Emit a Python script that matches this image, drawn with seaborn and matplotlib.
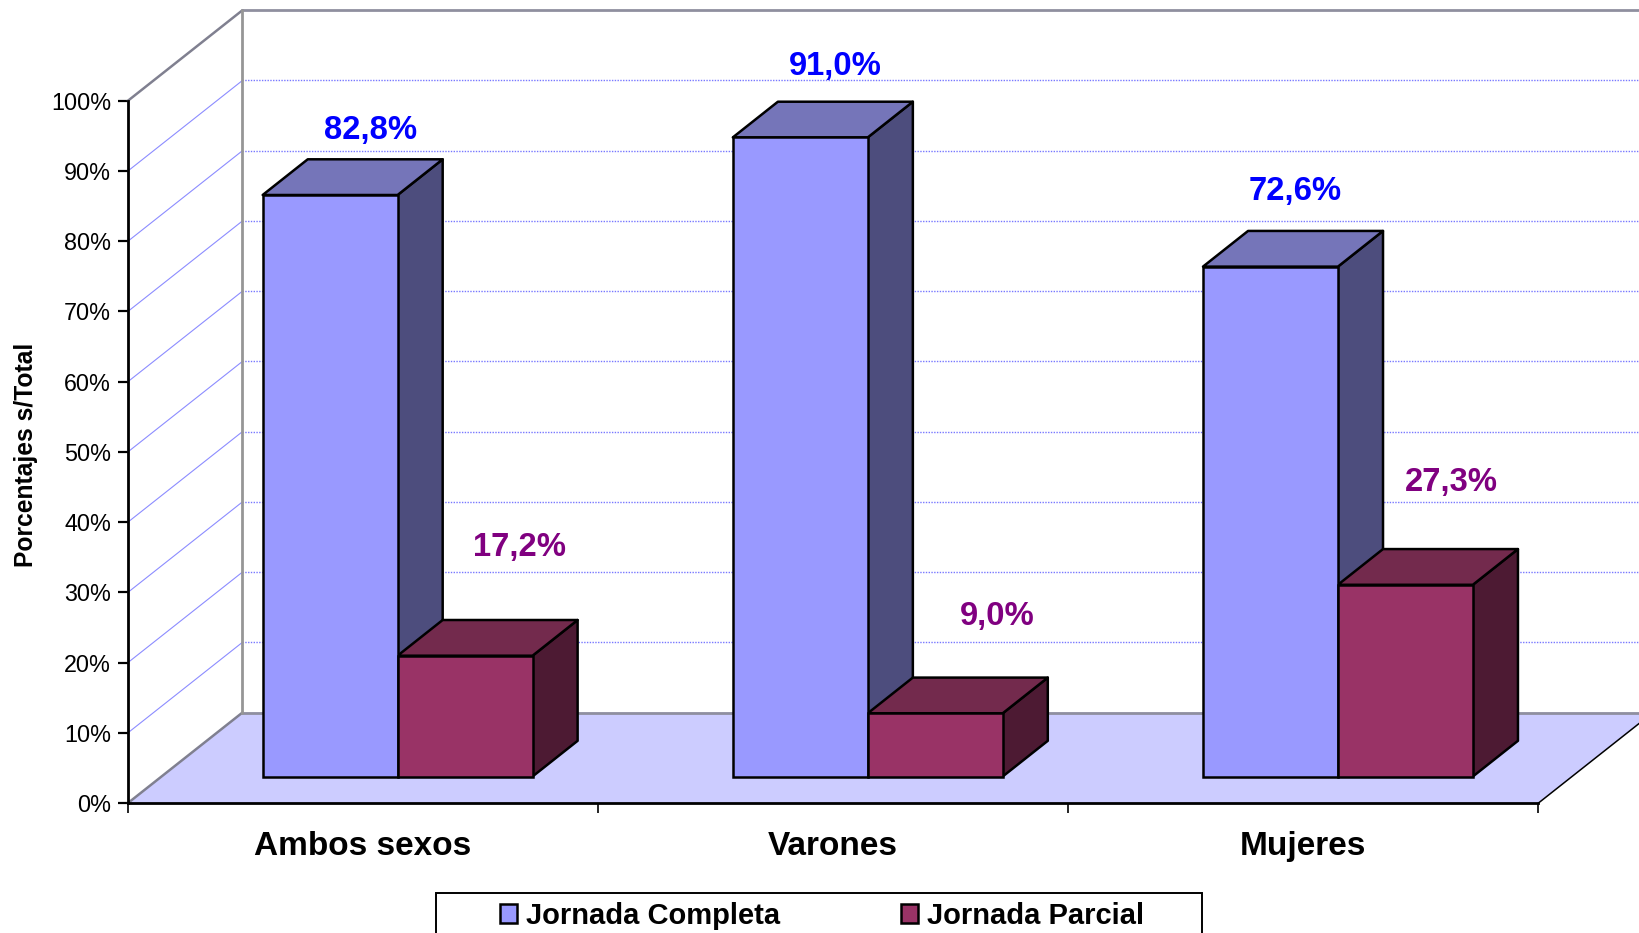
import matplotlib
matplotlib.use("Agg")
import matplotlib.pyplot as plt
import pandas as pd
import seaborn as sns
from matplotlib.patches import Polygon, Rectangle
from matplotlib.transforms import Affine2D

categories = ["Ambos sexos", "Varones", "Mujeres"]
completa = [82.8, 91.0, 72.6]
parcial = [17.2, 9.0, 27.3]
series_names = ["Jornada Completa", "Jornada Parcial"]
y_ticks = list(range(0, 101, 10))

# label placement: pixels right of the bar centre, pixels above the bar top
label_offsets = {
    "Jornada Completa": [(40, 55.5), (35.5, 62), (24.5, 66.3)],
    "Jornada Parcial": [(54.5, 100), (62, 88), (46, 94.1)],
}

W, H = 1640, 933
sns.set_theme(style="white")
plt.rcParams["font.family"] = ["Liberation Sans", "DejaVu Sans"]

fig = plt.figure(figsize=(W / 100, H / 100), dpi=100, facecolor="white")
L, R, Y0, Y100 = 128.0, 1538.5, 803.0, 100.7
ax = fig.add_axes([L / W, 1 - Y0 / H, (R - L) / W, (Y0 - Y100) / H])
ax.patch.set_alpha(0)

df = pd.DataFrame({
    "cat": categories * 2,
    "val": completa + parcial,
    "serie": [series_names[0]] * 3 + [series_names[1]] * 3,
})
colors = {series_names[0]: "#9999FF", series_names[1]: "#993366"}
tops = {series_names[0]: "#7575B9", series_names[1]: "#732A4D"}
sides = {series_names[0]: "#4D4D7D", series_names[1]: "#4D1A33"}
text_cols = {series_names[0]: "#0000FF", series_names[1]: "#800080"}

sns.barplot(data=df, x="cat", y="val", hue="serie", order=categories,
            hue_order=series_names, palette=colors, saturation=1,
            width=0.574, gap=0, edgecolor="black", linewidth=1.8, ax=ax)

ax.set_xlim(-0.5, 2.5)
ax.set_ylim(0, 100)

px = (R - L) / 3          # pixels per category
py = (Y0 - Y100) / 100    # pixels per percent
wall_dx, wall_dy = 114.5 / px, 90.5 / py
bar_ox, bar_oy = 34.5 / px, 26.5 / py
bar_dx, bar_dy = 45.1 / px, 35.7 / py

# floor
x0, x1 = ax.get_xlim()
ax.add_patch(Polygon([(x0, 0), (x1, 0), (x1 + wall_dx, wall_dy), (x0 + wall_dx, wall_dy)],
                     closed=True, fc="#CCCCFF", ec="none", zorder=1, clip_on=False))

# wall and side gridlines
grid_c = "#7878FF"
for t in y_ticks:
    yb = t + wall_dy
    edge = t in (0, 100)
    ax.plot([x0, x0 + wall_dx], [t, yb], color="#808090" if edge else "#8C8CFF",
            lw=1.8 if edge else 0.8, zorder=1.5, clip_on=False)
    ax.plot([x0 + wall_dx, x1 + wall_dx], [yb, yb], color="#8F8F9F" if edge else grid_c,
            lw=2.0 if edge else 1.0, ls="-" if edge else (0, (1, 1)), zorder=1.5, clip_on=False)
ax.plot([x0 + wall_dx, x0 + wall_dx], [wall_dy, 100 + wall_dy], color="#969696", lw=2.0,
        zorder=1.6, clip_on=False)
ax.plot([x1, x1 + wall_dx], [0, wall_dy], color="black", lw=1.1, zorder=1.6, clip_on=False)

# 3D faces derived from each seaborn bar
shift = Affine2D().translate(bar_ox, bar_oy) + ax.transData
for s_idx, (name, cont) in enumerate(zip(series_names, ax.containers)):
    for cat_idx, bar in enumerate(cont.patches):
        bar.set_transform(shift)
        bar.set_clip_on(False)
        bar.set_zorder(5)
        xa, w, h = bar.get_x(), bar.get_width(), bar.get_height()
        xb = xa + w
        z = 3 + s_idx * 0.5
        ax.add_patch(Polygon([(xb, 0), (xb + bar_dx, bar_dy), (xb + bar_dx, h + bar_dy), (xb, h)],
                             closed=True, fc=sides[name], ec="black", lw=1.8, zorder=z,
                             transform=shift, clip_on=False, joinstyle="round"))
        ax.add_patch(Polygon([(xa, h), (xb, h), (xb + bar_dx, h + bar_dy), (xa + bar_dx, h + bar_dy)],
                             closed=True, fc=tops[name], ec="black", lw=1.8, zorder=z + 0.1,
                             transform=shift, clip_on=False, joinstyle="round"))
        lx, ly = label_offsets[name][cat_idx]
        txt = f"{h:.1f}%".replace(".", ",")
        ax.annotate(txt, xy=(xa + w / 2 + bar_ox, h + bar_oy), xytext=(lx, ly),
                    textcoords="offset pixels", ha="center", va="baseline",
                    color=text_cols[name], fontsize=23.6, fontweight="bold",
                    zorder=7, annotation_clip=False)

# axes
for s in ("top", "right"):
    ax.spines[s].set_visible(False)
for s in ("left", "bottom"):
    ax.spines[s].set_color("black")
    ax.spines[s].set_linewidth(2.0)
    ax.spines[s].set_zorder(2)

ax.set_yticks(y_ticks, labels=[f"{t}%" for t in y_ticks])
ax.tick_params(axis="y", left=True, length=7.2, width=1.6, color="black", pad=5,
               labelsize=16.8, labelcolor="black")
ax.set_xticks([-0.5, 0.5, 1.5, 2.5], labels=[""] * 4)
ax.tick_params(axis="x", which="major", bottom=True, length=7.2, width=1.2, color="black")
ax.set_xticks(range(len(categories)), labels=categories, minor=True)
ax.tick_params(axis="x", which="minor", bottom=False, length=0, pad=20, labelsize=24)
for lab in ax.get_xticklabels(minor=True):
    lab.set_fontweight("bold")
    lab.set_color("black")

ax.set_xlabel("")
ax.set_ylabel("Porcentajes s/Total", fontsize=17.7, fontweight="bold", color="black")
ax.yaxis.set_label_coords((38 - L) / (R - L), (Y0 - 455) / (Y0 - Y100))

# legend
sns.move_legend(ax, "upper left", bbox_to_anchor=(488 / W, 1 - 890 / H),
                bbox_transform=fig.transFigure, ncols=2, frameon=False, title=None,
                prop={"weight": "bold", "size": 21.0}, handlelength=0.59, handleheight=0.59,
                handletextpad=0.31, columnspacing=4.15, borderaxespad=0, borderpad=0.4)
for t in ax.get_legend().get_texts():
    t.set_color("black")
fig.add_artist(Rectangle((436.5 / W, 1 - 940 / H), (1201.6 - 436.5) / W, (940 - 893) / H,
                         transform=fig.transFigure, fc="none", ec="black", lw=1.4))

fig.savefig("out.png", dpi=100)
